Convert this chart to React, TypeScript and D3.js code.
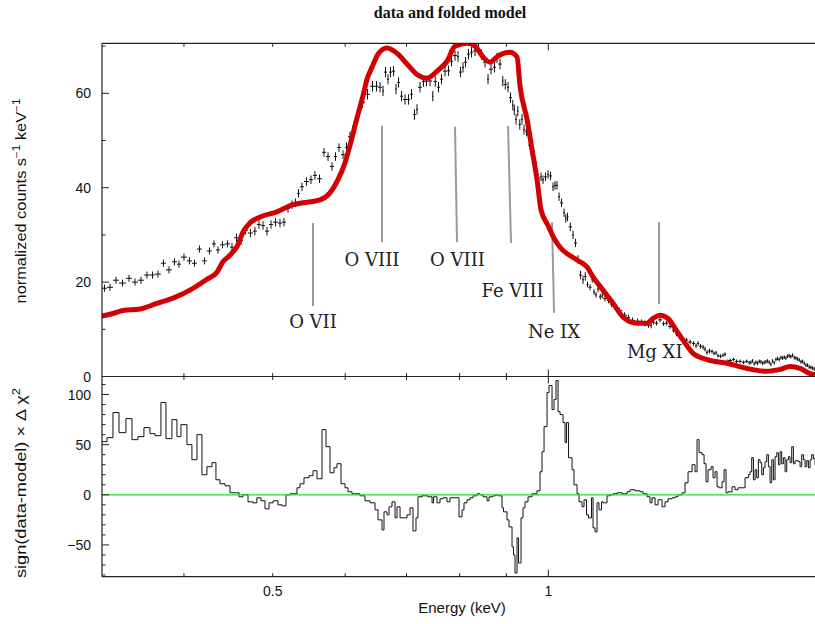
import React from "react";
import * as d3 from "d3";

// ---------- data ----------
const binEdges = [
  0.3255, 0.3296, 0.3346, 0.3397, 0.3457, 0.3510, 0.3563, 0.3617, 0.3672, 0.3719,
  0.3775, 0.3823, 0.3881, 0.3930, 0.3970, 0.4030, 0.4081, 0.4133, 0.4185, 0.4238,
  0.4292, 0.4335, 0.4379, 0.4435, 0.4491, 0.4536, 0.4594, 0.4640, 0.4699, 0.4757,
  0.4805, 0.4855, 0.4904, 0.4954, 0.5004, 0.5067, 0.5118, 0.5170, 0.5222, 0.5275,
  0.5315, 0.5355, 0.5409, 0.5478, 0.5533, 0.5589, 0.5660, 0.5717, 0.5775, 0.5833,
  0.5877, 0.5937, 0.5997, 0.6042, 0.6103, 0.6165, 0.6227, 0.6306, 0.6386, 0.6467,
  0.6516, 0.6582, 0.6615, 0.6665, 0.6699, 0.6749, 0.6801, 0.6835, 0.6887, 0.6939,
  0.7009, 0.7062, 0.7115, 0.7169, 0.7205, 0.7278, 0.7333, 0.7389, 0.7464, 0.7492,
  0.7558, 0.7615, 0.7673, 0.7751, 0.7809, 0.7868, 0.7948, 0.7988, 0.8049, 0.8089,
  0.8150, 0.8212, 0.8274, 0.8358, 0.8421, 0.8485, 0.8571, 0.8614, 0.8701, 0.8767,
  0.8811, 0.8900, 0.8934, 0.9013, 0.9058, 0.9127, 0.9162, 0.9196, 0.9243, 0.9278,
  0.9336, 0.9383, 0.9430, 0.9502, 0.9598, 0.9719, 0.9793, 0.9842, 0.9892, 0.9967,
  1.0017, 1.0093, 1.0144, 1.0195, 1.0247, 1.0298, 1.0376, 1.0429, 1.0468, 1.0521,
  1.0614, 1.0667, 1.0748, 1.0802, 1.0884, 1.0939, 1.1008, 1.1063, 1.1147, 1.1189,
  1.1246, 1.1302, 1.1359, 1.1431, 1.1474, 1.1590, 1.1678, 1.1767, 1.1886, 1.2036,
  1.2188, 1.2281, 1.2436, 1.2593, 1.2689, 1.2817, 1.2914, 1.2979, 1.3077, 1.3177,
  1.3310, 1.3410, 1.3512, 1.3649, 1.3752, 1.3856, 1.3996, 1.4102, 1.4209, 1.4353,
  1.4461, 1.4534, 1.4608, 1.4718, 1.4793, 1.4867, 1.4942, 1.5055, 1.5131, 1.5208,
  1.5284, 1.5361, 1.5478, 1.5556, 1.5634, 1.5713, 1.5872, 1.5992, 1.6113, 1.6276,
  1.6399,
  1.6537, 1.6607, 1.6676, 1.6746, 1.6817, 1.6887, 1.6958, 1.7030, 1.7101, 1.7173,
  1.7245, 1.7318, 1.7390, 1.7463, 1.7537, 1.7610, 1.7684, 1.7759, 1.7833, 1.7908,
  1.7983, 1.8059, 1.8135, 1.8211, 1.8288, 1.8364, 1.8441, 1.8519, 1.8597, 1.8675,
  1.8753, 1.8832, 1.8911, 1.8991, 1.9070, 1.9151, 1.9231, 1.9312, 1.9393, 1.9474,
  1.9556, 1.9638, 1.9721, 1.9804, 1.9887,
];

const counts = [
  18.7, 18.9, 20.4, 19.8, 20.8, 20.0, 20.4, 21.5, 21.5, 21.7,
  24.0, 22.6, 24.3, 23.8, 25.3, 24.5, 24.0, 27.0, 24.5, 26.6,
  28.1, 26.8, 27.9, 28.1, 27.4, 29.4, 28.8, 31.0, 30.4, 30.8,
  32.2, 32.0, 30.8, 32.2, 32.7, 32.5, 32.7, 35.6, 36.4, 36.8,
  38.8, 40.2, 41.3, 41.7, 42.6, 41.9, 47.5, 46.6, 44.5, 46.6,
  48.5, 47.0, 48.5, 50.8, 53.0, 55.5, 58.0, 59.8, 61.5, 61.5,
  61.3, 60.5, 64.5, 63.0, 64.5, 64.7, 60.9, 62.3, 59.4, 58.7,
  58.7, 59.8, 55.5, 56.6, 61.3, 62.5, 62.6, 62.6, 59.4, 62.5,
  61.3, 63.0, 64.7, 64.8, 66.8, 68.0, 67.8, 64.5, 65.5, 66.6,
  68.3, 68.7, 69.0, 69.4, 68.2, 66.6, 63.0, 65.1, 65.5, 67.5,
  66.2, 62.6, 61.9, 61.3, 59.1, 57.5, 56.5, 54.5, 56.2, 53.4,
  54.5, 52.3, 52.0, 49.0, 45.5, 42.0, 42.3, 41.7, 42.3, 42.8,
  42.5, 40.2, 40.5, 40.5, 38.1, 36.8, 34.7, 33.5, 33.8, 31.7,
  30.0, 28.3, 24.8, 21.5, 20.5, 21.2, 19.5, 18.9, 20.5, 17.9,
  17.3, 18.5, 16.9, 17.2, 16.5, 16.1, 15.3, 14.7, 14.0, 13.0,
  12.5, 11.9, 11.7, 11.5, 11.2, 10.9, 10.8, 11.5, 11.3, 12.0,
  11.2, 11.3, 10.6, 9.8, 9.0, 8.3, 7.8, 7.7, 7.3, 7.0,
  6.5, 7.0, 6.4, 6.2, 5.8, 5.1, 5.4, 5.3, 4.9, 5.0,
  4.4, 4.3, 4.5, 4.7, 3.2, 3.4, 3.6, 3.2, 3.2, 3.0,
  3.2,
  2.9, 3.0, 3.3, 2.7, 3.0, 2.8, 3.2, 3.1, 2.8, 3.0,
  3.1, 3.3, 3.0, 2.6, 3.3, 2.9, 3.6, 3.8, 3.6, 4.0,
  3.9, 4.1, 3.9, 4.3, 4.4, 4.2, 4.5, 4.0, 3.9, 3.7,
  3.5, 3.1, 3.2, 2.8, 2.4, 2.4, 2.0, 1.9, 1.8, 1.6,
  1.5, 1.6, 1.4, 1.5,
];

const delChi = [
  53, 57, 82, 62, 76, 55, 58, 67, 61, 59,
  92, 56, 75, 58, 70, 50, 35, 60, 20, 28,
  32, 15, 11, 9, 2, 2, -2, 0, -7, -8,
  -3, -6, -14, -8, -6, -10, -11, 0, 1, 1,
  7, 11, 17, 19, 24, 16, 65, 48, 22, 27,
  31, 11, 7, 3, 1, 1, -1, -6, -8, -15,
  -25, -35, -17, -20, -12, -7, -23, -12, -23, -23,
  -20, -13, -36, -23, -2, -1, -1, -2, -8, -2,
  -8, -4, -3, -7, -3, -3, -3, -22, -15, -8,
  -5, -3, -1, 1, 0, -2, -6, -2, -1, 0,
  -1, -13, -17, -25, -32, -52, -60, -78, -43, -68,
  -23, -13, -7, -2, 1, 4, 23, 43, 68, 102,
  109, 85, 95, 114, 83, 80, 72, 52, 72, 37,
  25, 10, 1, -7, -12, -5, -20, -23, -3, -33,
  -37, -8, -15, -7, -8, -1, 0, 1, 2, 1,
  3, 5, 4, 3, 1, -2, -8, -3, -10, -5,
  -12, -7, -4, -3, -2, 0, 2, 12, 23, 30,
  23, 55, 42, 40, 31, 13, 25, 28, 17, 23,
  8, 7, 13, 25, 2, 3, 8, 5, 7, 7,
  17,
  20, 23, 37, 15, 25, 17, 35, 32, 20, 27,
  33, 40, 28, 12, 35, 15, 38, 42, 30, 43,
  31, 37, 23, 35, 38, 32, 48, 31, 34, 34,
  33, 28, 40, 35, 28, 34, 27, 35, 40, 36,
  30, 38, 33, 35,
];

const errBreaks = [0.45, 0.6, 0.95, 1.1, 1.3, 1.5];
const errSizes = [0.75, 0.9, 1.1, 0.9, 0.6, 0.5, 0.4];

const modelEnergy = [
  0.3255, 0.3338, 0.3431, 0.3581, 0.3738, 0.3891, 0.4061, 0.4238, 0.4346, 0.4412,
  0.4491, 0.4582, 0.4640, 0.4721, 0.4843, 0.5054, 0.5262, 0.5396, 0.5631, 0.5775,
  0.5892, 0.5997, 0.6073, 0.6181, 0.6275, 0.6338, 0.6418, 0.6516, 0.6665, 0.6852,
  0.7009, 0.7187, 0.7370, 0.7558, 0.7751, 0.7908, 0.8150, 0.8316, 0.8485, 0.8636,
  0.8811, 0.9081, 0.9243, 0.9313, 0.9478, 0.9598, 0.9719, 0.9818, 0.9992, 1.0170,
  1.0298, 1.0748, 1.1022, 1.1189, 1.1474, 1.1767, 1.2066, 1.2499, 1.2817, 1.3012,
  1.3243, 1.3512, 1.3752, 1.4032, 1.4389, 1.4905, 1.5674, 1.6482, 1.7333, 1.7909,
  1.8365, 1.8832, 1.9312, 1.9804,
];
const modelCounts = [
  12.8, 13.3, 14.0, 14.3, 15.5, 16.6, 18.3, 20.6, 22.1, 24.3,
  25.7, 27.9, 30.6, 32.5, 33.8, 34.9, 36.4, 36.8, 37.4, 38.9,
  41.7, 45.3, 49.0, 54.8, 59.5, 63.0, 65.5, 68.3, 69.6, 68.3,
  66.2, 64.0, 63.2, 64.7, 66.8, 70.0, 70.6, 70.0, 67.7, 66.6,
  67.9, 68.7, 67.7, 61.5, 54.5, 48.1, 41.7, 35.3, 32.0, 28.9,
  27.4, 24.7, 23.2, 21.1, 18.3, 15.5, 12.6, 11.3, 11.3, 12.3,
  13.0, 12.3, 10.2, 7.7, 4.9, 3.6, 2.8, 1.7, 1.1, 1.5,
  2.1, 1.7, 0.6, 0.3,
];

const xMinorTicks = [0.4, 0.5, 0.6, 0.7, 0.8, 0.9, 2];
const xMajorTicks = [1];
const xLabelValues = [0.5, 1];
const xLabelTexts = ["0.5", "1"];
const topMajorTicks = [0, 20, 40, 60];
const topMinorTicks = [10, 30, 50, 70];
const botMajorTicks = [-50, 0, 50, 100];
const botMinorTicks = [-80, -70, -60, -40, -30, -20, -10, 10, 20, 30, 40, 60, 70, 80, 90, 110];

const lineNames = ["O VII", "O VIII", "O VIII", "Fe VIII", "Ne IX", "Mg XI"];
const lineTopE = [0.5533, 0.6582, 0.7908, 0.9036, 1.0093, 1.321];
const lineBotE = [0.5533, 0.6582, 0.7948, 0.9104, 1.0144, 1.321];
const lineTopV = [32.5, 53.1, 52.9, 53.1, 32.7, 32.7];
const lineBotV = [14.9, 28.5, 28.5, 28.3, 13.5, 15.4];
const labelE = [0.5533, 0.6418, 0.7957, 0.9139, 1.0144, 1.3066];
const labelV = [10.3, 23.4, 23.4, 16.8, 8.2, 3.9];

// ---------- layout ----------
const W = 815;
const H = 624;
const L = 102;
const R = 824;
const T = 43.3;
const MID = 376.5;
const B = 576.7;
const SANS = "'Liberation Sans', Arial, Helvetica, sans-serif";

export default function App() {
  const x = d3.scaleLog().domain([0.3255, 2.0]).range([L, R]);
  const yTop = d3.scaleLinear().domain([0, 70.6]).range([MID, T]);
  const yBot = d3.scaleLinear().domain([-81.7, 118]).range([B, MID]);

  const nBins = counts.length;
  const errFor = (e: number) => errSizes[d3.bisectRight(errBreaks, e)];

  const bins = d3.range(nBins).map((i) => {
    const lo = binEdges[i];
    const hi = binEdges[i + 1];
    const c = (lo + hi) / 2;
    return { lo, hi, c, v: counts[i], err: errFor(c), r: delChi[i] };
  });

  const modelPts = modelEnergy.map((e, i) => [e, modelCounts[i]] as [number, number]);
  const modelPath =
    d3
      .line<[number, number]>()
      .x((d) => x(d[0]))
      .y((d) => yTop(d[1]))
      .curve(d3.curveMonotoneX)(modelPts) || "";

  const residPts: [number, number][] = bins.map((b) => [x(b.lo), yBot(b.r)]);
  residPts.push([x(bins[nBins - 1].hi), yBot(bins[nBins - 1].r)]);
  const residPath = d3.line().curve(d3.curveStepAfter)(residPts) || "";

  const tickColor = "#222";
  const xTickLines: JSX.Element[] = [];
  const addXTicks = (vals: number[], len: number, key: string) => {
    vals.forEach((v, i) => {
      const px = x(v);
      xTickLines.push(
        <line key={`${key}a${i}`} x1={px} x2={px} y1={T} y2={T + len} />,
        <line key={`${key}b${i}`} x1={px} x2={px} y1={MID} y2={MID - len} />,
        <line key={`${key}c${i}`} x1={px} x2={px} y1={MID} y2={MID + len} />,
        <line key={`${key}d${i}`} x1={px} x2={px} y1={B} y2={B - len} />
      );
    });
  };
  addXTicks(xMinorTicks, 3.5, "mn");
  addXTicks(xMajorTicks, 7, "mj");

  return (
    <svg
      width={W}
      height={H}
      viewBox={`0 0 ${W} ${H}`}
      style={{ position: "absolute", left: 0, top: 0, background: "#fff", display: "block" }}
    >
      <defs>
        <clipPath id="clipTop">
          <rect x={L} y={T} width={R - L} height={MID - T} />
        </clipPath>
        <clipPath id="clipBot">
          <rect x={L} y={MID} width={R - L} height={B - MID} />
        </clipPath>
      </defs>
      <rect x={0} y={0} width={W} height={H} fill="#fff" />

      {/* title */}
      <text
        x={450}
        y={18}
        textAnchor="middle"
        fontFamily="'Liberation Serif', 'Times New Roman', serif"
        fontWeight="bold"
        fontSize={16}
        fill="#111"
      >
        data and folded model
      </text>

      {/* top panel: data crosses */}
      <g clipPath="url(#clipTop)" stroke="#111" strokeWidth={1} fill="none">
        {bins.map((b, i) => (
          <g key={i}>
            <line x1={x(b.lo)} x2={x(b.hi)} y1={yTop(b.v)} y2={yTop(b.v)} />
            <line x1={x(b.c)} x2={x(b.c)} y1={yTop(b.v - b.err)} y2={yTop(b.v + b.err)} />
          </g>
        ))}
      </g>

      {/* line identifications */}
      <g stroke="#9a9a9a" strokeWidth={2}>
        {lineNames.map((n, i) => (
          <line
            key={i}
            x1={x(lineTopE[i])}
            x2={x(lineBotE[i])}
            y1={yTop(lineTopV[i])}
            y2={yTop(lineBotV[i])}
          />
        ))}
      </g>
      <g fontFamily="'DejaVu Serif', serif" fontSize={18} fill="#222" textAnchor="middle">
        {lineNames.map((n, i) => (
          <text key={i} x={x(labelE[i])} y={yTop(labelV[i])}>
            {n}
          </text>
        ))}
      </g>

      {/* model */}
      <g clipPath="url(#clipTop)">
        <path
          d={modelPath}
          fill="none"
          stroke="#d20000"
          strokeWidth={5}
          strokeLinejoin="round"
          strokeLinecap="round"
        />
      </g>

      {/* bottom panel: residual steps */}
      <g clipPath="url(#clipBot)">
        <path d={residPath} fill="none" stroke="#111" strokeWidth={1} />
        <line x1={L} x2={R} y1={yBot(0)} y2={yBot(0)} stroke="#22e022" strokeWidth={1.2} />
      </g>

      {/* frames */}
      <g stroke={tickColor} strokeWidth={1.2} fill="none">
        <line x1={L} x2={R} y1={T} y2={T} />
        <line x1={L} x2={R} y1={MID} y2={MID} />
        <line x1={L} x2={R} y1={B} y2={B} />
        <line x1={L} x2={L} y1={T} y2={B} />
      </g>

      {/* ticks */}
      <g stroke={tickColor} strokeWidth={1}>
        {xTickLines}
        {topMajorTicks.map((v, i) => (
          <line key={`tm${i}`} x1={L} x2={L + 7} y1={yTop(v)} y2={yTop(v)} />
        ))}
        {topMinorTicks.map((v, i) => (
          <line key={`tn${i}`} x1={L} x2={L + 3.5} y1={yTop(v)} y2={yTop(v)} />
        ))}
        {botMajorTicks.map((v, i) => (
          <line key={`bm${i}`} x1={L} x2={L + 7} y1={yBot(v)} y2={yBot(v)} />
        ))}
        {botMinorTicks.map((v, i) => (
          <line key={`bn${i}`} x1={L} x2={L + 3.5} y1={yBot(v)} y2={yBot(v)} />
        ))}
      </g>

      {/* tick labels */}
      <g fontFamily={SANS} fontSize={14} fill="#111">
        {topMajorTicks.map((v, i) => (
          <text key={`tl${i}`} x={91} y={yTop(v) + 5} textAnchor="end">
            {v}
          </text>
        ))}
        {botMajorTicks.map((v, i) => (
          <text key={`bl${i}`} x={91} y={yBot(v) + 5} textAnchor="end">
            {v < 0 ? `\u2212${Math.abs(v)}` : v}
          </text>
        ))}
        {xLabelValues.map((v, i) => (
          <text key={`xl${i}`} x={x(v)} y={596} textAnchor="middle">
            {xLabelTexts[i]}
          </text>
        ))}
      </g>

      {/* axis titles */}
      <text x={462} y={613} textAnchor="middle" fontFamily={SANS} fontSize={15} fill="#111">
        Energy (keV)
      </text>
      <text
        transform="translate(26,201) rotate(-90) scale(1.17,1)"
        textAnchor="middle"
        fontFamily={SANS}
        fontSize={14}
        fill="#111"
      >
        <tspan>normalized counts s</tspan>
        <tspan dy={-6} fontSize={10}>
          {"\u22121"}
        </tspan>
        <tspan dy={6}> keV</tspan>
        <tspan dy={-6} fontSize={10}>
          {"\u22121"}
        </tspan>
      </text>
      <text
        transform="translate(26,483) rotate(-90) scale(1.3,1)"
        textAnchor="middle"
        fontFamily={SANS}
        fontSize={14}
        fill="#111"
      >
        <tspan>sign(data-model) × Δ χ</tspan>
        <tspan dy={-6} fontSize={10}>
          2
        </tspan>
      </text>
    </svg>
  );
}
